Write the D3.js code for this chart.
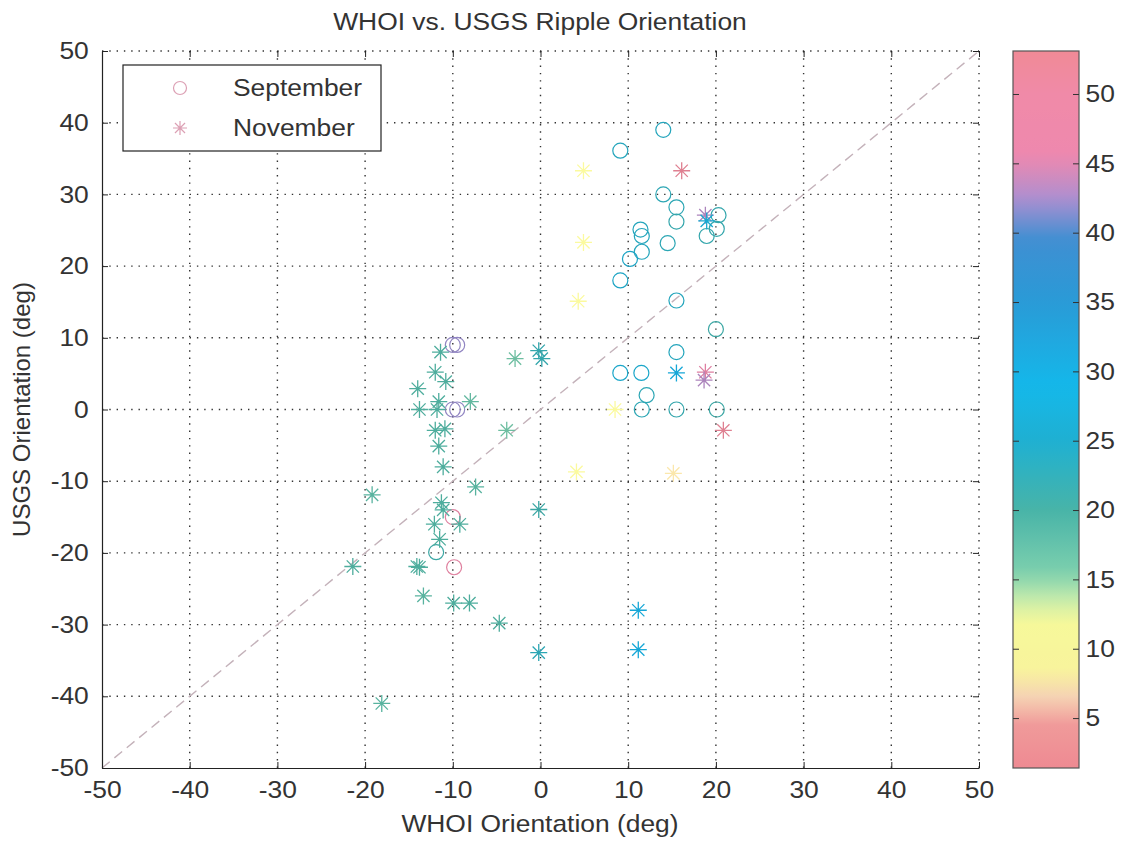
<!DOCTYPE html>
<html>
<head>
<meta charset="utf-8">
<script src="https://cdn.jsdelivr.net/npm/d3@7"></script>
<style>
body { margin: 0; background: #fff; }
text { font-family: "Liberation Sans", Arial, sans-serif; fill: #333; }
</style>
</head>
<body>
<svg id="chart" width="1126" height="845"></svg>
<script>
// September ripples (circles): WHOI deg, USGS deg, colour value
var sepX = [-10, -9.5, -10, -9.5, -10, -9.85, -11.9,
            14, 9.1, 14, 15.5, 15.5, 20.3, 20.1, 18.95, 11.4, 11.55, 11.55, 14.5, 10.2, 9.1,
            15.5, 20, 15.5, 9.1, 11.5, 12.1, 11.55, 15.5, 20.1];
var sepY = [9, 9, 0, 0, -15, -22, -19.9,
            39, 36.1, 30, 28.2, 26.2, 27.1, 25.2, 24.2, 25.1, 24.2, 22, 23.2, 21, 18,
            15.2, 11.2, 8, 5.1, 5.1, 2, 0, 0, 0];
var sepC = [42, 42, 42, 42, 47, 48, 21,
            24, 24, 23, 23, 22, 22, 22, 22, 24, 24, 24, 23, 25, 25,
            24, 21, 24, 26, 26, 23, 23, 22, 21];

// November ripples (asterisks)
var novX = [-11.4, -12, -10.8, -14, -13.8, -11.8, -11.6, -8, -12, -10.9, -11.6, -11.1,
            -19.2, -7.4, -11.3, -11.1, -9.2, -12.1, -11.5, -21.4, -14.1, -13.8, -13.35,
            -9.9, -8.1, -4.7, -0.2, -0.2, -18.1, -2.9, -0.2, 0.15, -3.85,
            16.1, 18.8, 18.95, 15.5, 18.8, 18.65, 20.85, 11.15, 11.15,
            4.9, 4.9, 4.3, 4.1, 8.5, 15.15];
var novY = [8, 5.2, 3.9, 2.9, 0, 0, 1.1, 1.1, -2.9, -2.7, -5.1, -8,
            -11.9, -10.8, -13, -14, -16, -16, -18.1, -21.9, -21.9, -22, -26,
            -27, -27, -29.8, -13.95, -33.9, -41, 7.1, 8.2, 7.1, -2.9,
            33.3, 27.1, 26.3, 5.1, 5.2, 4.1, -2.9, -28, -33.5,
            33.3, 23.3, 15.1, -8.7, 0, -8.9];
var novC = [19, 19, 19, 19, 19, 19, 19, 17, 19, 19, 19, 19,
            18, 18, 19, 19, 19, 19, 19, 19, 19, 19, 18,
            19, 19, 19, 21, 23, 18, 16, 22, 22, 16,
            52, 43, 27, 30, 46, 43, 52, 30, 30,
            10, 10, 10, 10, 10, 7.5];

var axisTicks = [-50, -40, -30, -20, -10, 0, 10, 20, 30, 40, 50];
var cbarTicks = [5, 10, 15, 20, 25, 30, 35, 40, 45, 50];
var cbarRange = [1.4, 53.1];
var legendNames = ["September", "November"];

// colormap of the colour bar
var cmapVals = [1.4, 4.5, 6.5, 8.5, 12, 13.5, 15.5, 20, 25, 29, 35, 39.5, 42.5, 45.5, 50, 53.1];
var cmapCols = ["#ee8a92", "#f09a9a", "#f5d2b4", "#f8f49c", "#f6f89a", "#c8ecac", "#7ccfae",
                "#48b4a8", "#1fb0d2", "#14b8ea", "#2a9ad6", "#3f8fd2", "#ae8fd0", "#ee88ae",
                "#f08aa8", "#f08a96"];

(function() {
var pL = 102, pR = 979, pT = 51, pB = 768;
var cbL = 1013, cbR = 1079;
var fs = 24, stretch = 1.1;

var svg = d3.select("#chart");
var x = d3.scaleLinear().domain([-50, 50]).range([pL, pR]);
var y = d3.scaleLinear().domain([-50, 50]).range([pB, pT]);
var color = d3.scaleLinear().domain(cmapVals).range(cmapCols);
var cy = d3.scaleLinear().domain(cbarRange).range([pB, pT]);
var plain = function(d) { return String(d); };

// pale yellow marks stay washed out, the others a little deeper than the bar
function markColor(v) {
  var k = (v > 6 && v < 13) ? -0.05 : 0.2;
  return d3.color(color(v)).darker(k).formatHex();
}

function stretchText(sel) {
  sel.style("font-size", fs + "px").attr("transform", "scale(" + stretch + ",1)");
}

// asterisk path (+ and x)
function star(r) {
  var d = r * 0.72;
  return "M" + (-r) + ",0L" + r + ",0M0," + (-r) + "L0," + r +
    "M" + (-d) + "," + (-d) + "L" + d + "," + d + "M" + (-d) + "," + d + "L" + d + "," + (-d);
}

// dotted grid
var grid = svg.append("g");
grid.selectAll("line.v").data(axisTicks.slice(1)).join("line").attr("class", "v")
  .attr("x1", d => x(d)).attr("x2", d => x(d)).attr("y1", pT).attr("y2", pB);
grid.selectAll("line.h").data(axisTicks.slice(1)).join("line").attr("class", "h")
  .attr("y1", d => y(d)).attr("y2", d => y(d)).attr("x1", pL).attr("x2", pR);
grid.selectAll("line").attr("stroke", "#333").attr("stroke-width", 1.4)
  .attr("stroke-dasharray", "1.4,5.9");

// 1:1 line
svg.append("line")
  .attr("x1", x(-50)).attr("y1", y(-50)).attr("x2", x(50)).attr("y2", y(50))
  .attr("stroke", "#c4b2ba").attr("stroke-width", 1.4).attr("stroke-dasharray", "10,6");

// axes
var gx = svg.append("g").attr("transform", "translate(0," + pB + ")")
  .call(d3.axisBottom(x).tickValues(axisTicks).tickFormat(plain)
    .tickSizeInner(-6).tickSizeOuter(0).tickPadding(13));
var gy = svg.append("g").attr("transform", "translate(" + pL + ",0)")
  .call(d3.axisLeft(y).tickValues(axisTicks).tickFormat(plain)
    .tickSizeInner(-6).tickSizeOuter(0).tickPadding(12));
var gt = svg.append("g").attr("transform", "translate(0," + pT + ")")
  .call(d3.axisTop(x).tickValues(axisTicks).tickSizeInner(-6).tickFormat(""));
var gr = svg.append("g").attr("transform", "translate(" + pR + ",0)")
  .call(d3.axisRight(y).tickValues(axisTicks).tickSizeInner(-6).tickFormat(""));
gt.select(".domain").remove();
gr.select(".domain").remove();
[gx, gy, gt, gr].forEach(function(g) {
  g.attr("font-family", null);
  g.selectAll("line").attr("stroke", "#222");
  g.select(".domain").attr("stroke", "#222").attr("stroke-width", 1.2);
  g.selectAll("text").attr("fill", "#3a3a3a").call(stretchText);
});

// points
var sep = sepX.map((d, i) => ({x: d, y: sepY[i], c: sepC[i]}));
var nov = novX.map((d, i) => ({x: d, y: novY[i], c: novC[i]}));

svg.append("g").selectAll("circle").data(sep).join("circle")
  .attr("cx", d => x(d.x)).attr("cy", d => y(d.y)).attr("r", 7.5)
  .attr("fill", "none").attr("stroke", d => markColor(d.c)).attr("stroke-width", 1.2);

svg.append("g").selectAll("path").data(nov).join("path")
  .attr("transform", d => "translate(" + x(d.x) + "," + y(d.y) + ")")
  .attr("d", star(8.5))
  .attr("fill", "none").attr("stroke", d => markColor(d.c)).attr("stroke-width", 1.3);

// legend
var lg = svg.append("g");
lg.append("rect").attr("x", 123).attr("y", 65).attr("width", 258).attr("height", 86)
  .attr("fill", "#fff").attr("stroke", "#222").attr("stroke-width", 1.2);
lg.append("circle").attr("cx", 180).attr("cy", 88).attr("r", 6.5)
  .attr("fill", "none").attr("stroke", "#dca0b4").attr("stroke-width", 1.2);
lg.append("path").attr("transform", "translate(180,128)").attr("d", star(7))
  .attr("fill", "none").attr("stroke", "#dca0b4").attr("stroke-width", 1.2);
lg.selectAll("text").data(legendNames).join("text")
  .attr("x", 233 / stretch).attr("y", (d, i) => 96 + i * 40)
  .attr("fill", "#3a3a3a").text(d => d).call(stretchText);

// colour bar
var grad = svg.append("defs").append("linearGradient").attr("id", "cbar")
  .attr("x1", 0).attr("x2", 0).attr("y1", 1).attr("y2", 0);
d3.range(0, 1.0001, 0.02).forEach(function(t) {
  var v = cbarRange[0] + t * (cbarRange[1] - cbarRange[0]);
  grad.append("stop").attr("offset", t).attr("stop-color", color(v));
});
svg.append("rect").attr("x", cbL).attr("y", pT).attr("width", cbR - cbL)
  .attr("height", pB - pT).attr("fill", "url(#cbar)")
  .attr("stroke", "#555").attr("stroke-width", 1.2);
var gc = svg.append("g").attr("transform", "translate(" + cbR + ",0)")
  .call(d3.axisRight(cy).tickValues(cbarTicks).tickFormat(plain)
    .tickSizeInner(-6).tickSizeOuter(0).tickPadding(6));
var gc2 = svg.append("g").attr("transform", "translate(" + cbL + ",0)")
  .call(d3.axisLeft(cy).tickValues(cbarTicks).tickSizeInner(-6).tickSizeOuter(0).tickFormat(""));
[gc, gc2].forEach(function(g) {
  g.attr("font-family", null);
  g.select(".domain").remove();
  g.selectAll("line").attr("stroke", "#333");
  g.selectAll("text").attr("fill", "#3a3a3a").call(stretchText);
});

// titles
svg.append("text").attr("x", 540 / stretch).attr("y", 30).attr("text-anchor", "middle")
  .attr("fill", "#3a3a3a").text("WHOI vs. USGS Ripple Orientation").call(stretchText);
svg.append("text").attr("x", 540 / stretch).attr("y", 832).attr("text-anchor", "middle")
  .attr("fill", "#3a3a3a").text("WHOI Orientation (deg)").call(stretchText);
svg.append("text").attr("transform", "translate(30," + ((pT + pB) / 2) + ") rotate(-90)")
  .attr("text-anchor", "middle").attr("fill", "#3a3a3a").style("font-size", fs + "px")
  .text("USGS Orientation (deg)");
})();
</script>
</body>
</html>
